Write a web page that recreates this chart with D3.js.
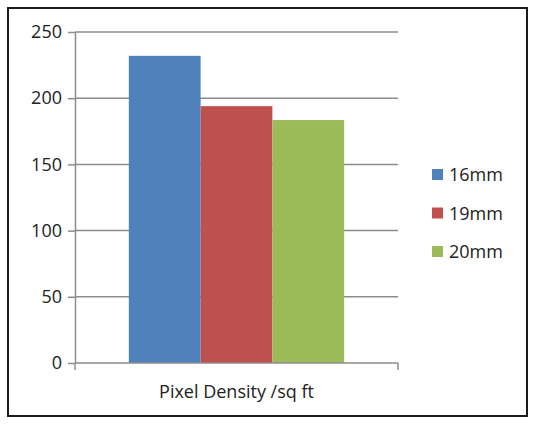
<!DOCTYPE html>
<html>
<head>
<meta charset="utf-8">
<script src="https://cdn.jsdelivr.net/npm/d3@7"></script>
<style>
  body { margin: 0; background: #fff; }
  svg text { font-family: "Open Sans", sans-serif; fill: #222; }
</style>
</head>
<body>
<div id="chart"></div>
<script>
var categories = ["Pixel Density /sq ft"];
var seriesNames = ["16mm", "19mm", "20mm"];
var seriesValues = [232, 194, 183.5];
var seriesColors = ["#4F81BD", "#C0504D", "#9BBB59"];
var yTicks = [0, 50, 100, 150, 200, 250];

var margin = {top: 32, left: 75},
    plotW = 323,
    plotH = 331;

var svg = d3.select("#chart").append("svg")
    .attr("width", 535)
    .attr("height", 425);

// outer frame
svg.append("rect")
    .attr("x", 8).attr("y", 8)
    .attr("width", 519).attr("height", 408)
    .attr("fill", "none")
    .attr("stroke", "#1a1a1a")
    .attr("stroke-width", 2);

var g = svg.append("g")
    .attr("transform", "translate(" + margin.left + "," + margin.top + ")");

var x0 = d3.scaleBand()
    .domain(categories)
    .range([0, plotW]);

// gap width 150% -> bars fill 3/(3+1.5)
var x1 = d3.scaleBand()
    .domain(seriesNames)
    .range([0, x0.bandwidth()])
    .paddingOuter(0.75);

var y = d3.scaleLinear()
    .domain([0, 250])
    .range([plotH, 0]);

// gridlines
g.append("g")
    .selectAll("line")
    .data(yTicks.slice(1))
    .enter().append("line")
    .attr("x1", 0).attr("x2", plotW)
    .attr("y1", function(d) { return y(d); })
    .attr("y2", function(d) { return y(d); })
    .attr("stroke", "#8c8c8c")
    .attr("stroke-width", 1.5);

// bars
g.append("g")
    .selectAll("rect")
    .data(seriesNames)
    .enter().append("rect")
    .attr("x", function(d) { return x0(categories[0]) + x1(d); })
    .attr("width", x1.bandwidth())
    .attr("y", function(d, i) { return y(seriesValues[i]); })
    .attr("height", function(d, i) { return plotH - y(seriesValues[i]); })
    .attr("fill", function(d, i) { return seriesColors[i]; });

// y axis
var yAxis = g.append("g")
    .call(d3.axisLeft(y).tickValues(yTicks).tickSize(7).tickSizeOuter(0).tickPadding(6));
yAxis.select(".domain").attr("stroke", "#8c8c8c").attr("stroke-width", 1.5);
yAxis.selectAll(".tick line").attr("stroke", "#8c8c8c").attr("stroke-width", 1.5);
yAxis.selectAll(".tick text")
    .style("font-size", "18px")
    .attr("fill", "#222");

// x axis
var xAxis = g.append("g")
    .attr("transform", "translate(0," + plotH + ")")
    .call(d3.axisBottom(x0).tickSize(0).tickPadding(22));
xAxis.select(".domain").remove();
xAxis.selectAll(".tick text")
    .style("font-size", "18px")
    .attr("fill", "#222");
g.append("line")
    .attr("x1", 0).attr("x2", plotW)
    .attr("y1", plotH).attr("y2", plotH)
    .attr("stroke", "#8c8c8c").attr("stroke-width", 1.5);
g.append("g")
    .selectAll("line")
    .data([0, plotW])
    .enter().append("line")
    .attr("x1", function(d) { return d; })
    .attr("x2", function(d) { return d; })
    .attr("y1", plotH).attr("y2", plotH + 7)
    .attr("stroke", "#8c8c8c").attr("stroke-width", 1.5);

// legend
var legend = svg.append("g")
    .attr("transform", "translate(432,175)");
var item = legend.selectAll("g")
    .data(seriesNames)
    .enter().append("g")
    .attr("transform", function(d, i) { return "translate(0," + (i * 38.5) + ")"; });
item.append("rect")
    .attr("x", 0).attr("y", -6)
    .attr("width", 11).attr("height", 11)
    .attr("fill", function(d, i) { return seriesColors[i]; });
item.append("text")
    .attr("x", 17)
    .attr("dy", "0.35em")
    .style("font-size", "18px")
    .text(function(d) { return d; });
</script>
</body>
</html>
